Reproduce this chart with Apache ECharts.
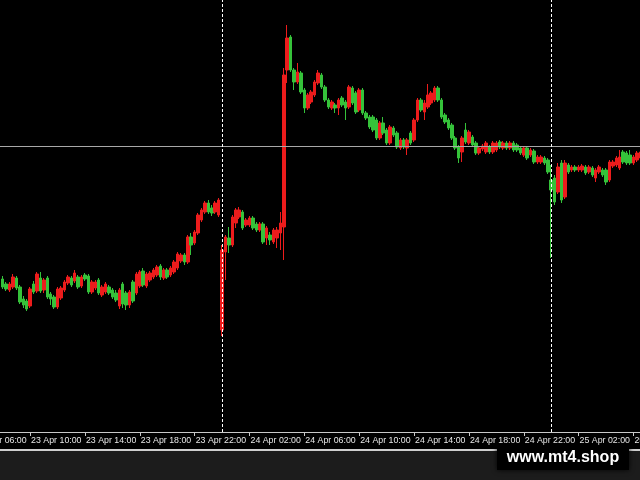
<!DOCTYPE html>
<html>
<head>
<meta charset="utf-8">
<script src="https://cdn.jsdelivr.net/npm/echarts@6/dist/echarts.min.js"></script>
<style>
html,body{margin:0;padding:0;background:#000;}
#chart{width:640px;height:480px;}
</style>
</head>
<body>
<div id="chart"></div>
<script>
// 15-minute bars, first real bar at 23 Apr 08:00 (8 empty leading slots from 06:00)
const leadingEmpty = 8;
const barCount = 187;
const tickLabels = ['23 Apr 06:00','23 Apr 10:00','23 Apr 14:00','23 Apr 18:00','23 Apr 22:00',
  '24 Apr 02:00','24 Apr 06:00','24 Apr 10:00','24 Apr 14:00','24 Apr 18:00','24 Apr 22:00',
  '25 Apr 02:00','25 Apr 06:00'];
const daySeparators = ['24 Apr 00:00','25 Apr 00:00'];
const priceLevel = 152.84;

const opens = [
151.51,151.46,151.40,151.43,151.52,151.43,151.31,151.29,151.24,151.46,
151.39,151.52,151.40,151.52,151.36,151.33,151.23,151.32,151.40,151.47,
151.52,151.49,151.53,151.44,151.55,151.54,151.38,151.42,151.50,151.35,
151.38,151.43,151.40,151.37,151.24,151.46,151.37,151.25,151.48,151.37,
151.44,151.59,151.44,151.50,151.53,151.55,151.64,151.52,151.60,151.55,
151.58,151.62,151.69,151.75,151.68,151.93,151.87,151.97,152.10,152.18,
152.27,152.22,152.18,152.15,151.00,151.78,151.92,151.85,152.07,152.13,
152.18,152.05,152.05,152.12,152.06,152.00,152.06,151.92,151.95,151.88,
151.92,151.97,152.03,153.60,153.93,153.60,153.48,153.57,153.40,153.22,
153.28,153.35,153.47,153.55,153.43,153.30,153.22,153.25,153.22,153.32,
153.28,153.23,153.42,153.37,153.20,153.40,153.17,153.13,153.13,153.10,
152.92,153.07,153.00,152.87,153.02,152.97,152.82,152.90,152.82,152.97,
152.90,153.10,153.30,153.18,153.23,153.27,153.30,153.42,153.30,153.15,
153.10,153.05,152.92,152.83,152.78,153.00,152.87,152.93,152.87,152.77,
152.81,152.78,152.83,152.78,152.80,152.88,152.82,152.87,152.82,152.87,
152.85,152.82,152.75,152.82,152.75,152.79,152.68,152.68,152.72,152.70,
152.50,152.52,152.38,152.67,152.33,152.65,152.60,152.63,152.60,152.60,
152.63,152.58,152.62,152.52,152.58,152.60,152.60,152.50,152.64,152.65,
152.62,152.78,152.77,152.75,152.67,152.70,152.72];

const closes = [
151.43,151.41,151.46,151.53,151.42,151.28,151.25,151.21,151.41,151.38,
151.56,151.39,151.50,151.33,151.31,151.23,151.41,151.42,151.48,151.53,
151.45,151.57,151.43,151.53,151.51,151.38,151.48,151.48,151.37,151.43,
151.46,151.37,151.33,151.30,151.40,151.26,151.25,151.38,151.29,151.56,
151.58,151.45,151.56,151.57,151.60,151.63,151.53,151.60,151.53,151.62,
151.68,151.76,151.75,151.68,151.93,151.85,151.98,152.15,152.20,152.27,
152.18,152.17,152.27,152.30,151.80,151.93,151.85,152.13,152.20,152.20,
152.02,152.10,152.12,152.02,152.00,152.06,151.88,152.02,151.90,152.00,
152.00,152.07,153.55,153.92,153.60,153.48,153.58,153.38,153.22,153.35,
153.38,153.48,153.57,153.43,153.30,153.23,153.28,153.22,153.30,153.25,
153.22,153.43,153.27,153.18,153.40,153.17,153.12,153.03,153.00,152.92,
153.07,152.97,152.87,153.03,152.95,152.83,152.90,152.83,152.90,152.87,
153.10,153.30,153.20,153.27,153.35,153.37,153.42,153.30,153.13,153.08,
153.02,152.92,152.82,152.72,152.92,152.88,152.98,152.85,152.77,152.82,
152.84,152.87,152.78,152.87,152.87,152.83,152.87,152.82,152.87,152.80,
152.80,152.77,152.82,152.72,152.80,152.68,152.73,152.73,152.67,152.58,
152.40,152.28,152.63,152.30,152.67,152.58,152.63,152.60,152.63,152.64,
152.57,152.63,152.55,152.60,152.63,152.55,152.48,152.68,152.68,152.72,
152.73,152.68,152.67,152.67,152.73,152.77,152.78];

const lows = [
151.41,151.39,151.38,151.41,151.40,151.26,151.22,151.19,151.22,151.36,
151.37,151.37,151.37,151.31,151.25,151.21,151.21,151.30,151.38,151.45,
151.43,151.47,151.41,151.42,151.49,151.36,151.36,151.40,151.35,151.33,
151.36,151.35,151.31,151.28,151.21,151.22,151.20,151.22,151.27,151.35,
151.42,151.43,151.42,151.48,151.51,151.53,151.50,151.50,151.51,151.53,
151.56,151.60,151.67,151.65,151.66,151.75,151.85,151.95,152.08,152.16,
152.16,152.14,152.16,152.13,150.94,151.50,151.77,151.83,152.02,152.11,
152.00,152.03,152.03,152.00,151.98,151.98,151.86,151.85,151.85,151.86,
151.82,151.80,151.70,153.47,153.58,153.40,153.46,153.36,153.17,153.20,
153.26,153.33,153.45,153.41,153.28,153.21,153.20,153.17,153.15,153.23,
153.10,153.21,153.25,153.16,153.18,153.15,153.10,153.01,152.98,152.90,
152.90,152.95,152.85,152.85,152.93,152.81,152.80,152.81,152.75,152.85,
152.88,153.08,153.18,153.10,153.21,153.25,153.28,153.28,153.11,153.06,
153.00,152.90,152.80,152.67,152.68,152.86,152.85,152.83,152.75,152.75,
152.79,152.76,152.76,152.76,152.78,152.81,152.80,152.80,152.80,152.78,
152.78,152.75,152.73,152.70,152.73,152.66,152.66,152.66,152.65,152.56,
151.72,152.25,152.36,152.27,152.31,152.56,152.58,152.58,152.58,152.58,
152.55,152.56,152.53,152.48,152.56,152.53,152.45,152.48,152.62,152.63,
152.60,152.66,152.65,152.65,152.65,152.68,152.70];

const highs = [
151.54,151.48,151.48,151.56,151.54,151.45,151.34,151.31,151.43,151.49,
151.58,151.58,151.52,151.54,151.38,151.35,151.43,151.44,151.50,151.55,
151.54,151.60,151.55,151.55,151.57,151.56,151.50,151.50,151.52,151.45,
151.48,151.45,151.42,151.40,151.42,151.48,151.39,151.40,151.50,151.58,
151.60,151.62,151.58,151.59,151.62,151.65,151.66,151.62,151.62,151.64,
151.70,151.78,151.77,151.77,151.95,151.97,152.00,152.17,152.22,152.29,
152.30,152.25,152.29,152.32,151.85,151.95,152.03,152.15,152.22,152.23,
152.20,152.12,152.14,152.14,152.08,152.08,152.08,152.04,151.98,152.02,
152.03,152.18,153.62,154.05,153.95,153.62,153.67,153.59,153.42,153.37,
153.40,153.50,153.60,153.57,153.45,153.32,153.30,153.27,153.32,153.34,
153.30,153.45,153.44,153.39,153.42,153.42,153.19,153.15,153.15,153.12,
153.09,153.13,153.02,153.05,153.04,152.99,152.92,152.92,152.92,152.99,
153.12,153.32,153.32,153.30,153.46,153.39,153.44,153.44,153.32,153.17,
153.12,153.07,152.94,152.85,152.94,153.07,153.00,152.95,152.89,152.84,
152.86,152.89,152.85,152.89,152.89,152.90,152.89,152.89,152.89,152.89,
152.87,152.84,152.84,152.84,152.82,152.81,152.75,152.75,152.74,152.72,
152.65,152.55,152.67,152.70,152.70,152.67,152.65,152.65,152.65,152.66,
152.65,152.65,152.64,152.62,152.65,152.62,152.62,152.70,152.70,152.74,
152.80,152.80,152.79,152.80,152.75,152.79,152.80];

// category labels (15-minute steps starting 23 Apr 06:00)
const categories = [];
(function(){
  let day = 23, h = 6, m = 0;
  for (let i = 0; i < leadingEmpty + barCount; i++) {
    categories.push(day + ' Apr ' + String(h).padStart(2,'0') + ':' + String(m).padStart(2,'0'));
    m += 15;
    if (m === 60) { m = 0; h++; if (h === 24) { h = 0; day++; } }
  }
})();

const candleData = categories.map((c, i) => {
  if (i < leadingEmpty) return ['-', '-', '-', '-'];
  const k = i - leadingEmpty;
  return [opens[k], closes[k], lows[k], highs[k]];
});

const tickSet = new Set(tickLabels);
const band = 3.428;
const gridLeft = 2.7 - band * (leadingEmpty + 0.5);
const gridRight = 640 - (gridLeft + band * categories.length);

const chart = echarts.init(document.getElementById('chart'), null, {renderer: 'canvas'});
chart.setOption({
  animation: false,
  backgroundColor: '#000000',
  grid: {
    left: gridLeft, right: gridRight, top: 0, bottom: 48,
    outerBoundsMode: 'none', containLabel: false
  },
  xAxis: {
    type: 'category',
    data: categories,
    boundaryGap: true,
    axisLine: {show: true, lineStyle: {color: '#c8c8c8', width: 1}},
    axisTick: {show: true, length: 4, alignWithLabel: true,
      interval: (idx, val) => tickSet.has(val), lineStyle: {color: '#c8c8c8'}},
    axisLabel: {show: false},
    splitLine: {show: false}
  },
  yAxis: {
    type: 'value', min: 149.98, max: 154.30, show: false,
    splitLine: {show: false}
  },
  series: [{
    type: 'candlestick',
    data: candleData,
    barWidth: 3,
    itemStyle: {
      color: '#ec1c1c', color0: '#35c23a',
      borderColor: '#ec1c1c', borderColor0: '#35c23a',
      borderWidth: 1
    },
    markLine: {
      silent: true, symbol: 'none', animation: false,
      label: {show: false},
      data: [
        {yAxis: priceLevel, lineStyle: {color: '#a8a8a8', type: 'solid', width: 1}},
        {xAxis: daySeparators[0], lineStyle: {color: '#ffffff', type: [3, 2], width: 1}},
        {xAxis: daySeparators[1], lineStyle: {color: '#ffffff', type: [3, 2], width: 1}}
      ]
    }
  }],
  graphic: [
    {type: 'rect', shape: {x: 0, y: 451, width: 640, height: 29}, style: {fill: '#1c1c1c'}, silent: true, z: 10},
    {type: 'rect', shape: {x: 0, y: 449, width: 640, height: 2}, style: {fill: '#cfcfcf'}, silent: true, z: 10},
    {type: 'rect', shape: {x: 497, y: 447, width: 132, height: 23}, style: {fill: '#000000', shadowBlur: 5, shadowColor: 'rgba(0,0,0,0.9)'}, silent: true, z: 11},
    {type: 'text', x: 563, y: 458, silent: true, z: 12,
      style: {text: 'www.mt4.shop', fill: '#ffffff', font: 'bold 16px "Liberation Sans", Arial, sans-serif',
        textAlign: 'center', textVerticalAlign: 'middle'}}
  ]
});

// time labels, left-aligned at their tick like the terminal does
const labelGraphics = tickLabels.map((t, i) => {
  const x = chart.convertToPixel({xAxisIndex: 0}, t);
  return {type: 'text', id: 'tl' + i, x: x + 1, y: 440.5, silent: true, z: 9,
    style: {text: t, fill: '#e8e8e8', font: '8.8px "Liberation Sans", Arial, sans-serif',
      textAlign: 'left', textVerticalAlign: 'middle'}};
});
chart.setOption({graphic: labelGraphics});
</script>
</body>
</html>
